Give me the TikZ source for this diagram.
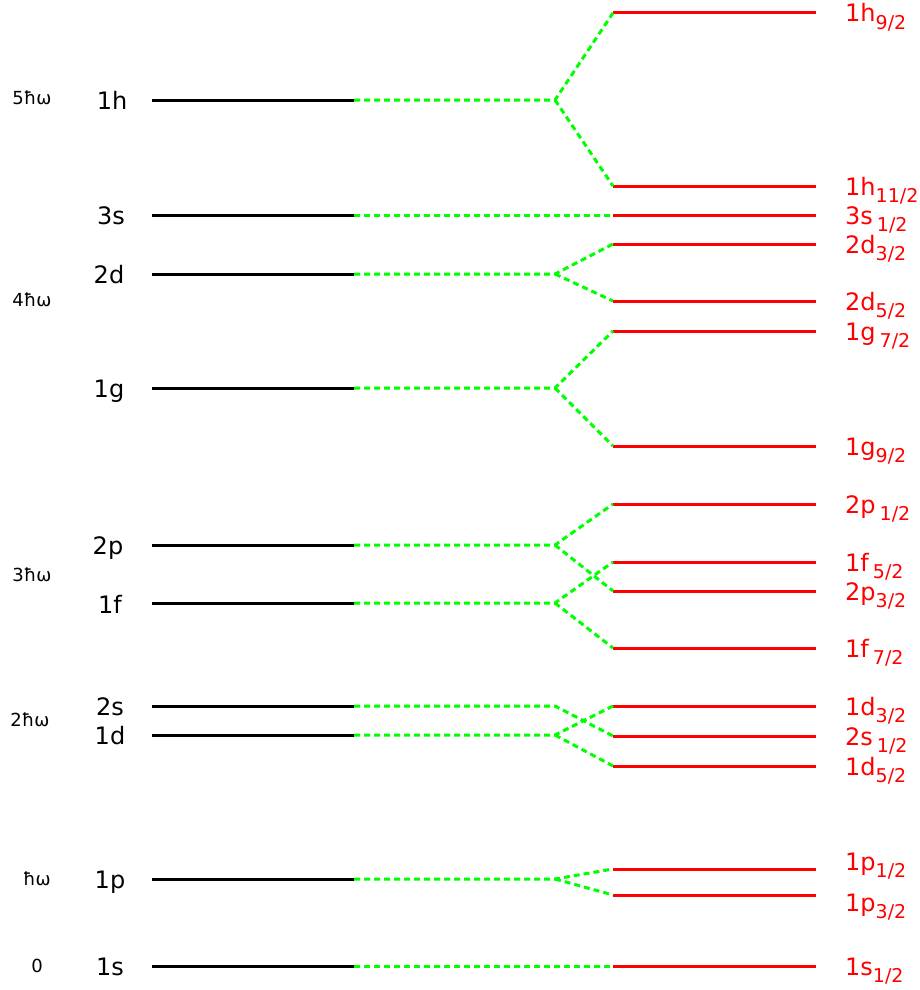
\documentclass[tikz,border=0pt]{standalone}
\usepackage{fontspec}
\setmainfont{DejaVu Sans}
\newcommand\jsub[1]{\raisebox{-0.33em}{\fontsize{19}{19}\selectfont #1}}
\begin{document}
\begin{tikzpicture}[x=1pt,y=-1pt,
  lev/.style={line width=3pt,black},
  rlev/.style={line width=3pt,red},
  conn/.style={line width=3pt,green,dash pattern=on 6pt off 4pt},
  llab/.style={anchor=base,font=\fontsize{24}{24}\selectfont,inner sep=0pt},
  rlab/.style={anchor=base west,font=\fontsize{24}{24}\selectfont,text=red,inner sep=0pt},
  elab/.style={anchor=base,font=\fontsize{18}{18}\selectfont,inner sep=0pt}]
\useasboundingbox (0,0) rectangle (920,990);
% black levels: name/y
\foreach \n/\y in {h1/100,s3/215,d2/274,g1/388,p2/545,f1/603,s2/706,d1/735,p1/879,s1/966}{
  \coordinate (\n a) at (152,\y);
  \coordinate (\n b) at (354,\y);
  \coordinate (\n m) at (555,\y);
  \draw[lev] (\n a) -- (\n b);
}
% red levels
\foreach \n/\y in {h9/13,h11/186,s31/215,d23/244,d25/301,g7/331,g9/446,p21/504,f5/562,p23/591,f7/648,d13/706,s21/736,d15/766,p11/869,p13/895,s11/966}{
  \coordinate (\n a) at (613,\y);
  \coordinate (\n b) at (816,\y);
  \draw[rlev] (\n a) -- (\n b);
}
% connectors
\draw[conn] (h1b) -- (h1m) -- (h9a);
\draw[conn] (h1m) -- (h11a);
\draw[conn] (s3b) -- (s31a);
\draw[conn] (d2b) -- (d2m) -- (d23a);
\draw[conn] (d2m) -- (d25a);
\draw[conn] (g1b) -- (g1m) -- (g7a);
\draw[conn] (g1m) -- (g9a);
\draw[conn] (p2b) -- (p2m) -- (p21a);
\draw[conn] (p2m) -- (p23a);
\draw[conn] (f1b) -- (f1m) -- (f5a);
\draw[conn] (f1m) -- (f7a);
\draw[conn] (s2b) -- (s2m) -- (s21a);
\draw[conn] (d1b) -- (d1m) -- (d13a);
\draw[conn] (d1m) -- (d15a);
\draw[conn] (p1b) -- (p1m) -- (p11a);
\draw[conn] (p1m) -- (p13a);
\draw[conn] (s1b) -- (s11a);
% left labels
\node[llab] (t1h) at (112,109) {1h};
\node[llab] (t3s) at (111,224) {3s};
\node[llab] (t2d) at (109,283) {2d};
\node[llab] (t1g) at (109,397) {1g};
\node[llab] (t2p) at (108,554) {2p};
\node[llab] (t1f) at (110,613) {1f};
\node[llab] (t2s) at (110,715) {2s};
\node[llab] (t1d) at (110,744) {1d};
\node[llab] (t1p) at (110,888) {1p};
\node[llab] (t1s) at (110,975) {1s};
% energy labels
\node[elab] (e5) at (32,104) {5ħω};
\node[elab] (e4) at (32,306) {4ħω};
\node[elab] (e3) at (32,581) {3ħω};
\node[elab] (e2) at (30,726) {2ħω};
\node[elab] (e1) at (37,885) {ħω};
\node[elab] (e0) at (37,972) {0};
% right labels
\node[rlab] (r1) at (845,22) {1h\jsub{9/2}};
\node[rlab] (r2) at (845,195) {1h\jsub{11/2}};
\node[rlab] (r3) at (845,224) {3s\,\jsub{1/2}};
\node[rlab] (r4) at (845,253) {2d\jsub{3/2}};
\node[rlab] (r5) at (845,310) {2d\jsub{5/2}};
\node[rlab] (r6) at (845,340) {1g\,\jsub{7/2}};
\node[rlab] (r7) at (845,455) {1g\jsub{9/2}};
\node[rlab] (r8) at (845,513) {2p\,\jsub{1/2}};
\node[rlab] (r9) at (845,571) {1f\,\jsub{5/2}};
\node[rlab] (r10) at (845,600) {2p\jsub{3/2}};
\node[rlab] (r11) at (845,657) {1f\,\jsub{7/2}};
\node[rlab] (r12) at (845,715) {1d\jsub{3/2}};
\node[rlab] (r13) at (845,745) {2s\,\jsub{1/2}};
\node[rlab] (r14) at (845,775) {1d\jsub{5/2}};
\node[rlab] (r15) at (845,870) {1p\jsub{1/2}};
\node[rlab] (r16) at (845,911) {1p\jsub{3/2}};
\node[rlab] (r17) at (845,975) {1s\jsub{1/2}};
\end{tikzpicture}
\end{document}
